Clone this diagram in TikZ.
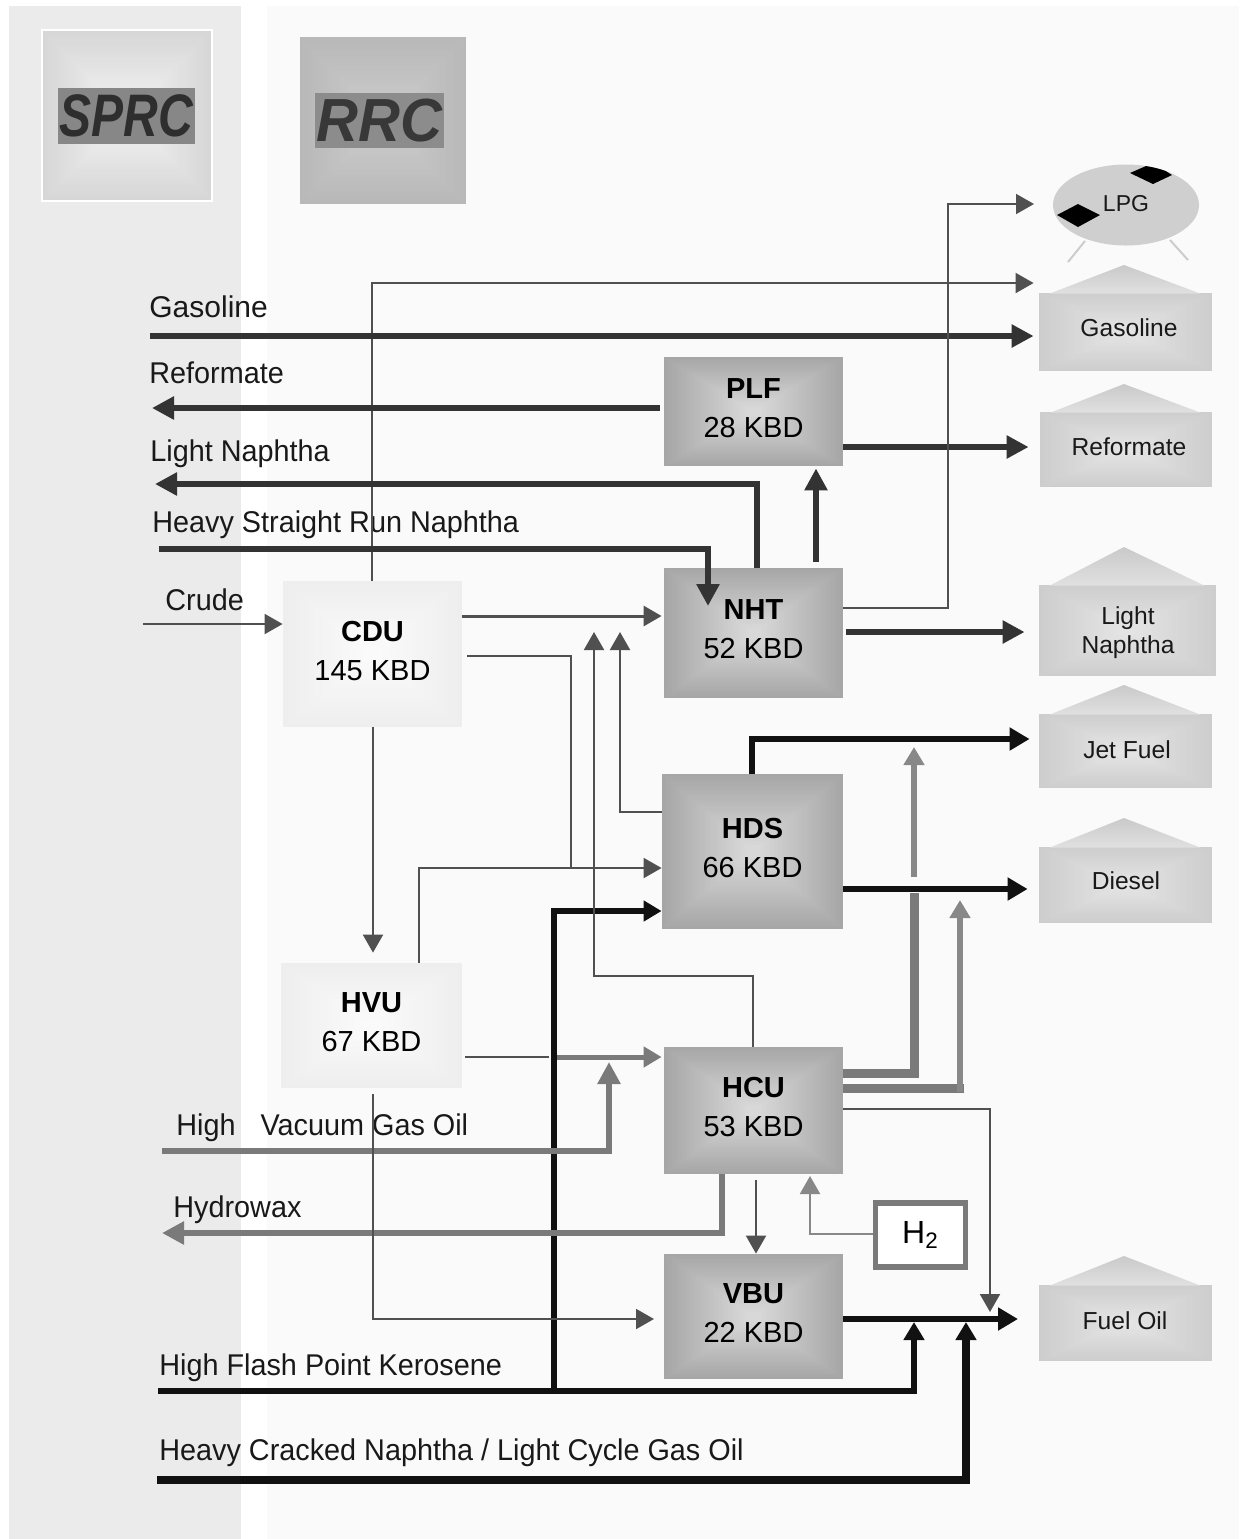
\documentclass[tikz,border=0pt]{standalone}
\usepackage{fontspec}
\setmainfont{Liberation Sans}
\newfontfamily\sidefont[FakeStretch=0.96]{Liberation Sans}
\usetikzlibrary{arrows.meta,calc,shapes.geometric}
\definecolor{bandc}{HTML}{EBEBEB}
\definecolor{panelc}{HTML}{FAFAFA}
\definecolor{unitout}{HTML}{A6A6A6}
\definecolor{unitin}{HTML}{D8D8D8}
\definecolor{lightout}{HTML}{EEEEEE}
\definecolor{lightin}{HTML}{FAFAFA}
\definecolor{tankout}{HTML}{CDCDCD}
\definecolor{tankin}{HTML}{E4E4E4}
\definecolor{sprcout}{HTML}{D6D6D6}
\definecolor{sprcin}{HTML}{F2F2F2}
\definecolor{rrcout}{HTML}{B8B8B8}
\definecolor{rrcin}{HTML}{CCCCCC}
\definecolor{lineblack}{HTML}{111111}
\definecolor{linedark}{HTML}{333333}
\definecolor{linemid}{HTML}{505050}
\definecolor{linegray}{HTML}{7A7A7A}
\definecolor{linesoft}{HTML}{888888}
\newcommand{\upby}{\rule[-3.5pt]{0pt}{0pt}}
\tikzset{
  grad/.style 2 args={path picture={
    \foreach \i in {0,...,32}{
      \pgfmathsetmacro\f{0.46*\i/32}
      \pgfmathsetmacro\p{100*\i/32}
      \fill[#2!\p!#1]
        ($(path picture bounding box.south west)!\f!(path picture bounding box.north east)$)
        rectangle
        ($(path picture bounding box.north east)!\f!(path picture bounding box.south west)$);
    }}},
  unitbox/.style={inner sep=0pt,align=center,text=black,
    font=\fontsize{14.5}{19.5}\selectfont,grad={unitout}{unitin}},
  lightbox/.style={inner sep=0pt,align=center,text=black,
    font=\fontsize{14.5}{19.5}\selectfont,grad={lightout}{lightin}},
  tankbody/.style={inner sep=0pt,grad={tankout}{tankin}},
  tanktext/.style={inner sep=0pt,align=center,text=black!90,
    font=\fontsize{12.3}{14.5}\selectfont},
  sidetext/.style={inner sep=0pt,anchor=base west,text=black!90,
    font=\sidefont\fontsize{15}{18}\selectfont},
  thinflow/.style={draw=linemid,line width=1pt},
  thickflow/.style={draw=linedark,line width=3pt},
  blackflow/.style={draw=lineblack,line width=3pt},
  grayflow/.style={draw=linegray,line width=3pt},
  softflow/.style={draw=linesoft,line width=2.8pt},
  tipS/.style={-{Triangle[length=9pt,width=10pt]}},
  tipL/.style={-{Triangle[length=11pt,width=11pt]}},
  tipB/.style={-{Triangle[length=10pt,width=11pt]}},
}
\begin{document}
\begin{tikzpicture}[x=0.5pt,y=-0.5pt]
\useasboundingbox (0,0) rectangle (1239,1539);
\fill[white] (0,0) rectangle (1239,1539);
\fill[bandc] (9,6) rectangle (241,1539);
\fill[panelc] (267,6) rectangle (1239,1539);

% logos
\node[draw=white,line width=1pt,minimum width=85pt,minimum height=85.5pt,inner sep=0pt,
  grad={sprcout}{sprcin}] (sprc) at (127,115.5) {};
\node[fill=black!47,minimum width=68.5pt,minimum height=28pt,inner sep=0pt,text=black!82,
  font=\bfseries\itshape\fontsize{24}{24}\selectfont] (sprclogo) at (126.5,116)
  {\scalebox{1}[1.25]{SPRC}};
\node[minimum width=83pt,minimum height=83.5pt,inner sep=0pt,
  grad={rrcout}{rrcin}] (rrc) at (383,120.5) {};
\node[fill=black!45,minimum width=64.5pt,minimum height=27.5pt,inner sep=0pt,text=black!78,
  font=\bfseries\itshape\fontsize{29}{29}\selectfont] (rrclogo) at (379.5,120.5)
  {\scalebox{1}[1.05]{RRC}};

% process units
\node[unitbox,minimum width=89.5pt,minimum height=54.5pt] (plf) at (753.5,411.5) {\textbf{PLF}\\28 KBD\upby};
\node[unitbox,minimum width=89.5pt,minimum height=65pt] (nht) at (753.5,633) {\textbf{NHT}\\52 KBD\upby};
\node[unitbox,minimum width=90.5pt,minimum height=77.5pt] (hds) at (752.5,851.5) {\textbf{HDS}\\66 KBD\upby};
\node[unitbox,minimum width=89.5pt,minimum height=63.5pt] (hcu) at (753.5,1110.5) {\textbf{HCU}\\53 KBD\upby};
\node[unitbox,minimum width=89.5pt,minimum height=62.5pt] (vbu) at (753.5,1316.5) {\textbf{VBU}\\22 KBD\upby};
\node[lightbox,minimum width=89.5pt,minimum height=73pt] (cdu) at (372.5,654) {\textbf{CDU}\\145 KBD\upby};
\node[lightbox,minimum width=90.5pt,minimum height=62.5pt] (hvu) at (371.5,1025.5) {\textbf{HVU}\\67 KBD\upby};
\node[draw=linegray,line width=2.8pt,fill=white,minimum width=45pt,minimum height=32pt,inner sep=0pt,
  font=\fontsize{16}{18}\selectfont] (h2) at (920.5,1235) {H$_{\mathrm{2}}$};

% LPG sphere
\draw[black!20,line width=1pt] (1085,241) -- (1068,262);
\draw[black!20,line width=1pt] (1170,240) -- (1188,260);
\node[ellipse,fill=black!19,minimum width=73pt,minimum height=40.5pt,inner sep=0pt] (lpg) at (1126,205) {};
\fill[black] (1057,215) -- (1078,204) -- (1100,215) -- (1078,227) -- cycle;
\begin{scope}
  \clip (1126,205) ellipse [x radius=73,y radius=40.5];
  \fill[black] (1130,173) -- (1153,163) -- (1172,175) -- (1153,184) -- cycle;
\end{scope}
\node[tanktext,font=\fontsize{11.5}{14}\selectfont] (lpgt) at (1126,204) {LPG};

% product tanks
\node[tankbody,minimum width=86.5pt,minimum height=39pt] (tgas) at (1125.5,332) {};
\node[tankbody,minimum width=86pt,minimum height=37.5pt] (tref) at (1126,449.5) {};
\node[tankbody,minimum width=88.5pt,minimum height=45.5pt] (tln) at (1127.5,630.5) {};
\node[tankbody,minimum width=86.5pt,minimum height=37pt] (tjet) at (1125.5,751) {};
\node[tankbody,minimum width=86.5pt,minimum height=38pt] (tdie) at (1125.5,885) {};
\node[tankbody,minimum width=86.5pt,minimum height=38pt] (tfo) at (1125.5,1323) {};
\foreach \t/\ap in {tgas/265,tref/384,tln/547,tjet/685,tdie/818,tfo/1256}{
  \shade[top color=black!21,bottom color=black!12]
    ($(\t.north west)+(11,1)$) -- (1124,\ap) -- ($(\t.north east)+(-12,1)$) -- cycle;
}
\node[tanktext] (lgas) at (1129,328) {Gasoline};
\node[tanktext] (lref) at (1129,447) {Reformate};
\node[tanktext] (lln) at (1128,632.5) {Light\\Naphtha};
\node[tanktext] (ljet) at (1127,750) {Jet Fuel};
\node[tanktext] (ldie) at (1126,881) {Diesel};
\node[tanktext] (lfo) at (1125,1321) {Fuel Oil};

% side labels
\node[sidetext] (sgas) at (149,317) {\addfontfeature{FakeStretch=1}Gasoline};
\node[sidetext] (sref) at (149,383) {Reformate};
\node[sidetext] (sln) at (150,461) {Light Naphtha};
\node[sidetext] (shs) at (152,532) {Heavy Straight Run Naphtha};
\node[sidetext] (scr) at (165,610) {Crude};
\node[sidetext] (shv) at (176,1135) {High\hspace{12.5pt}Vacuum Gas Oil};
\node[sidetext] (shw) at (173,1217) {Hydrowax};
\node[sidetext] (shf) at (159,1375) {High Flash Point Kerosene};
\node[sidetext] (shc) at (159,1460) {Heavy Cracked Naphtha / Light Cycle Gas Oil};

% free ends
\coordinate (crudein) at (143,624);
\coordinate (gasin) at (150,336);
\coordinate (refout) at (152,408);
\coordinate (lnout) at (155,484);
\coordinate (hsin) at (159,549);
\coordinate (hvgoin) at (162,1151);
\coordinate (hwout) at (162,1233);
\coordinate (hfin) at (158,1391);
\coordinate (hcin) at (157,1480);
\coordinate (foin) at (1018,1319);
\coordinate (fojoinA) at (914,1322);
\coordinate (fojoinB) at (966,1322);
\coordinate (fojoinC) at (990,1312);
\coordinate (jetin) at (914,747);
\coordinate (diein) at (960,900);
\coordinate (hcuin) at (609,1062);
\coordinate (nhtA) at (594,632);
\coordinate (nhtB) at (620,632);
\coordinate (lpgin) at (1034,204);

% connectors: heavy black feed first, others cross over it
\draw[blackflow,tipS] (554,1391) -- (554,911) -- (hds.west |- 0,911);
\draw[thinflow,tipS] (crudein) -- (cdu.west |- crudein);
\draw[thinflow,line width=1.5pt,tipS,shorten >=1pt] (cdu.east |- 0,616) -- (nht.west |- 0,616);
\draw[thinflow,tipS,shorten >=2.5pt] (cdu.north -| 372,0) -- (372,283) -- (tgas.west |- 0,283);
\draw[thickflow,tipL,shorten >=2.5pt] (gasin) -- (tgas.west |- gasin);
\draw[thickflow,tipL,shorten <=2pt] (plf.west |- refout) -- (refout);
\draw[thickflow,tipL,shorten >=5.5pt] (plf.east |- 0,447) -- (tref.west |- 0,447);
\draw[thickflow,tipL,shorten <=3pt,shorten >=1pt] (nht.north -| 816,0) -- (plf.south -| 816,0);
\draw[thickflow,tipL] (nht.north -| 757,0) -- (757,484) -- (lnout);
\draw[thickflow,tipL] (hsin) -- (708,549) -- (708,606);
\draw[thickflow,tipL,shorten <=1.5pt,shorten >=7pt] (nht.east |- 0,632) -- (tln.west |- 0,632);
\draw[thinflow,line width=0.9pt,-] (467,656) -- (571,656) -- (571,868);
\draw[thinflow,tipS] (hvu.north -| 419,0) -- (419,868) -- (hds.west |- 0,868);
\draw[thinflow,tipS,shorten >=5pt] (cdu.south -| 373,0) -- (hvu.north -| 373,0);
\draw[thinflow,tipS] (hds.west |- 0,812) -- (620,812) -- (nhtB);
\draw[thinflow,tipS] (hcu.north -| 753,0) -- (753,976) -- (594,976) -- (nhtA);
\draw[thinflow,line width=0.9pt,tipS] (nht.east |- 0,608) -- (948,608) -- (948,204) -- (lpgin);
\draw[blackflow,tipB,shorten >=4.5pt] (hds.north -| 752,0) -- (752,739) -- (tjet.west |- 0,739);
\draw[blackflow,line width=3.3pt,tipB,shorten >=5.5pt] (hds.east |- 0,889) -- (tdie.west |- 0,889);
\draw[grayflow,line width=4.5pt] (hcu.east |- 0,1073) -- (914,1073) -- (914,893);
\draw[softflow,tipS] (914,877) -- (jetin);
\draw[grayflow,line width=4.5pt] (hcu.east |- 0,1088) -- (964,1088);
\draw[softflow,tipS] (960,1092) -- (diein);
\draw[thinflow,tipS] (hcu.east |- 0,1109) -- (990,1109) -- (fojoinC);
\draw[thinflow] (465,1057) -- (549,1057);
\draw[grayflow,tipS,line width=2.5pt,shorten >=1pt] (557,1057) -- (hcu.west |- 0,1057);
\draw[grayflow,tipL] (hvgoin) -- (609,1151) -- (hcuin);
\draw[grayflow,tipL] (hcu.south -| 722,0) -- (722,1233) -- (hwout);
\draw[thinflow,tipS] (373,1094) -- (373,1319) -- (654,1319);
\draw[thinflow,tipS,shorten <=3pt] (hcu.south -| 756,0) -- (vbu.north -| 756,0);
\draw[draw=linesoft,line width=1pt,tipS] (h2.west |- 0,1234) -- (810,1234) -- (810,1176);
\draw[blackflow,tipB] (vbu.east |- foin) -- (foin);
\draw[blackflow,tipS] (hfin) -- (914,1391) -- (fojoinA);
\draw[blackflow,line width=4pt,tipS] (hcin) -- (966,1480) -- (fojoinB);
\end{tikzpicture}
\end{document}
